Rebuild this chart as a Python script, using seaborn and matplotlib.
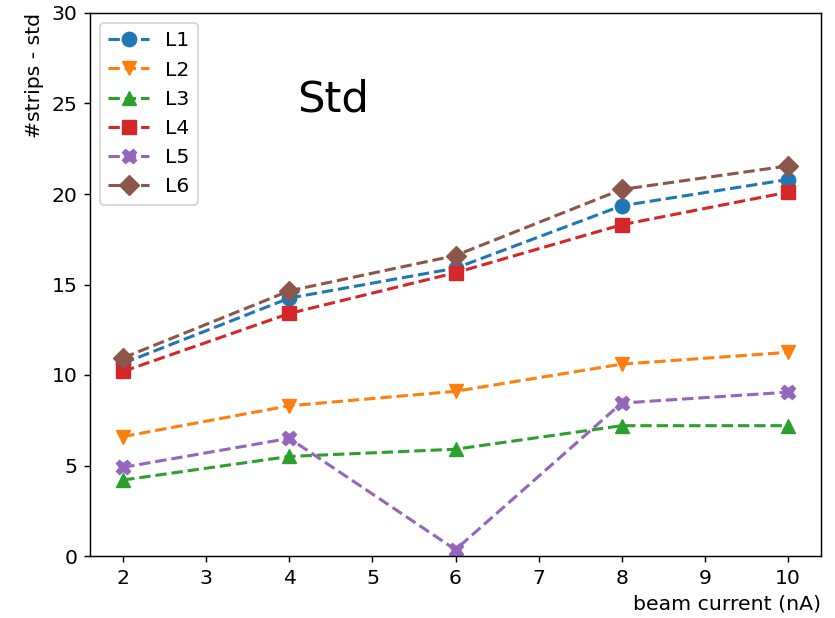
import matplotlib
matplotlib.use("Agg")
import matplotlib.pyplot as plt
import seaborn as sns
import pandas as pd

beam_current = [2, 4, 6, 8, 10]
L1 = [10.65, 14.25, 15.9, 19.35, 20.8]
L2 = [6.6, 8.3, 9.1, 10.6, 11.25]
L3 = [4.2, 5.5, 5.9, 7.2, 7.2]
L4 = [10.2, 13.4, 15.65, 18.3, 20.1]
L5 = [4.9, 6.5, 0.35, 8.45, 9.05]
L6 = [10.95, 14.65, 16.6, 20.25, 21.55]
series_names = ["L1", "L2", "L3", "L4", "L5", "L6"]
series_values = [L1, L2, L3, L4, L5, L6]
markers = ["o", "v", "^", "s", "X", "D"]
colors = sns.color_palette("tab10", 6)

plt.rcParams["font.size"] = 11.3

fig = plt.figure(figsize=(835 / 130, 618 / 130), dpi=130)
ax = fig.add_axes([90 / 835, 1 - 556 / 618, (821 - 90) / 835, (556 - 13) / 618])

for name, vals, m, c in zip(series_names, series_values, markers, colors):
    df = pd.DataFrame({"x": beam_current, "y": vals})
    sns.lineplot(data=df, x="x", y="y", ax=ax, marker=m, color=c,
                 linestyle="--", markersize=8, markeredgecolor=c,
                 linewidth=1.7, label=name)

ax.set_ylim(0, 30)
ax.set_xlim(1.6, 10.4)
ax.set_xticks(range(2, 11))
ax.set_yticks(range(0, 31, 5))
ax.set_xlabel("beam current (nA)", loc="right")
ax.set_ylabel("#strips - std", loc="top")
ax.text(0.332, 0.84, "Std", transform=ax.transAxes, fontsize=24,
        ha="center", va="center")
ax.legend(loc="upper left")

fig.savefig("out.png", dpi=130)
